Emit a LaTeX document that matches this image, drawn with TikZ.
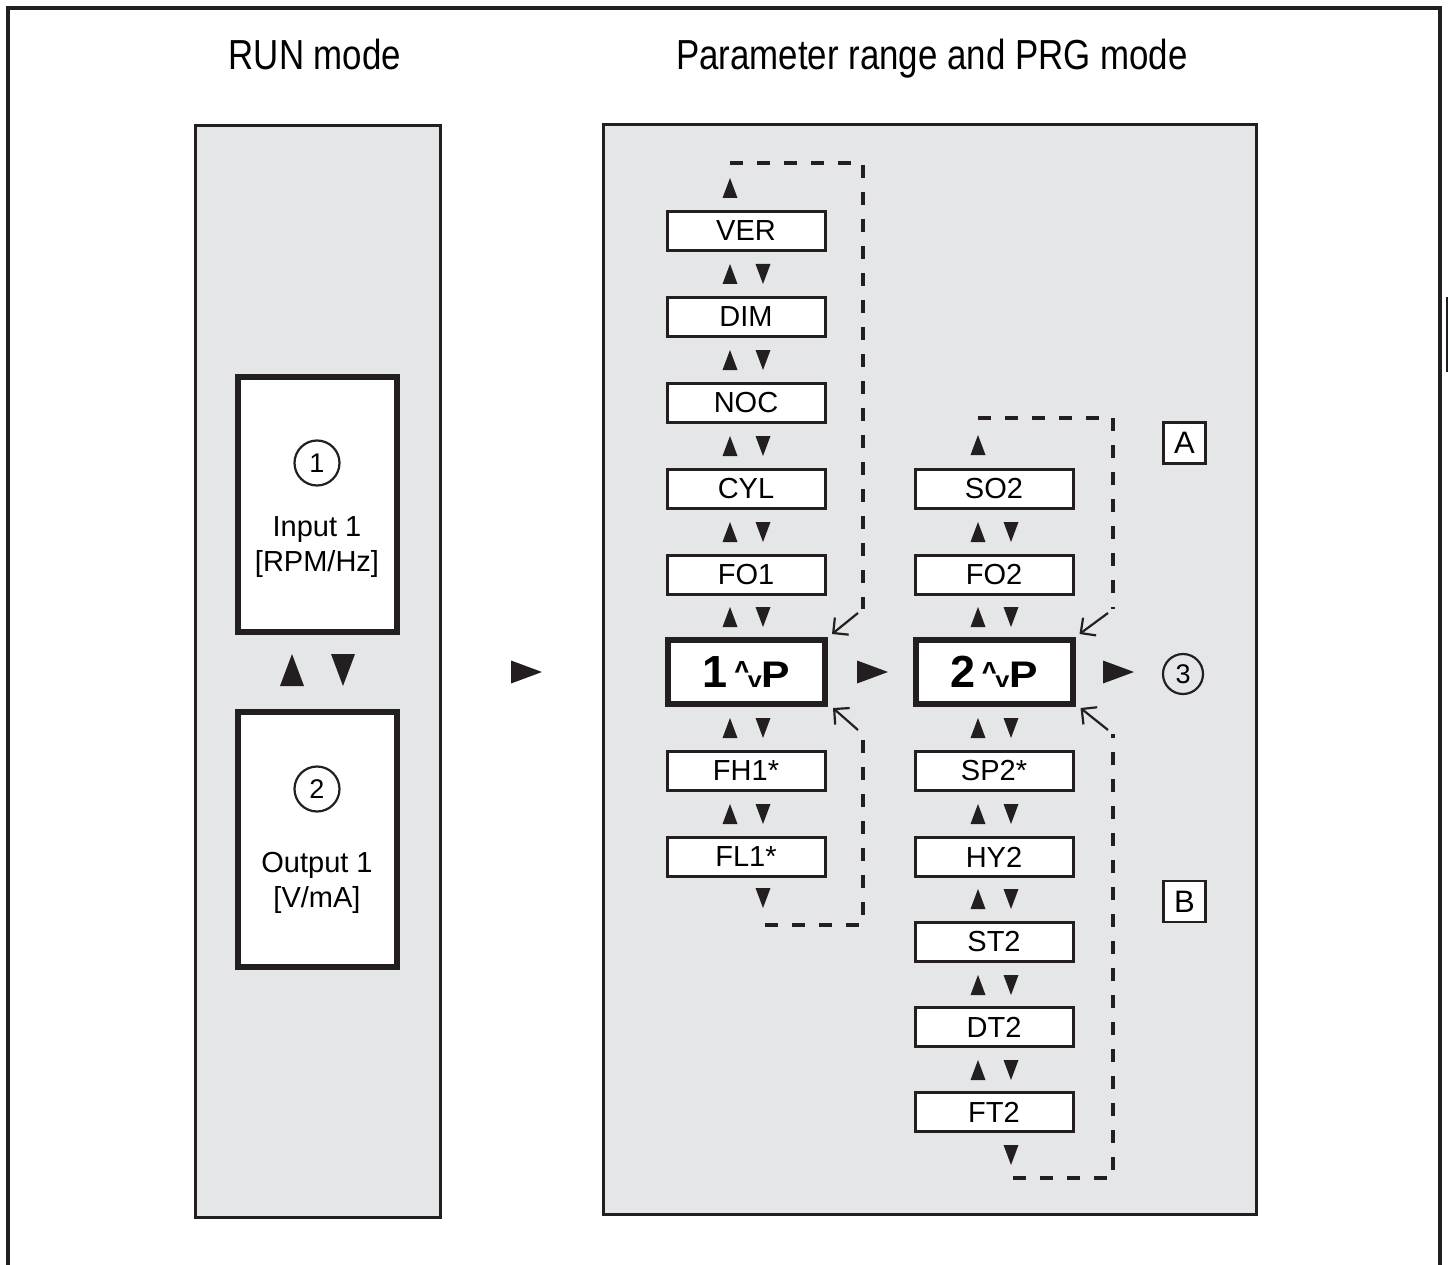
\documentclass[tikz,border=0pt]{standalone}
\usepackage{fontspec}
\setmainfont{Liberation Sans}
\newfontfamily\headfont[FakeStretch=0.83]{Liberation Sans}
\newfontfamily\prgfont[FakeStretch=1.15]{Liberation Sans}
\usetikzlibrary{arrows.meta}
\definecolor{panelgray}{RGB}{229,230,232}
\definecolor{ink}{RGB}{35,31,32}
\newcommand{\prgtext}[1]{{\bfseries\fontsize{45}{45}\selectfont #1}\hspace{7pt}{\prgfont\bfseries\fontsize{22}{22}\selectfont\raisebox{14pt}{\rotatebox[origin=c]{180}{v}}\hspace{-1pt}v}\hspace{0pt}{\prgfont\bfseries\fontsize{37}{37}\selectfont P}}
\tikzset{
  uptri/.pic={\fill[ink] (-7.5,10) -- (7.5,10) -- (0,-10) -- cycle;},
  dntri/.pic={\fill[ink] (-7.5,-10) -- (7.5,-10) -- (0,10) -- cycle;},
  rttri/.pic={\fill[ink] (-15,-11.5) -- (-15,11.5) -- (16,0) -- cycle;}
}
\begin{document}
\begin{tikzpicture}[x=1pt,y=-1pt,
  panel/.style={draw=ink,line width=3pt,fill=panelgray},
  par box/.style={draw=ink,line width=3pt,fill=white,minimum width=158pt,minimum height=39pt,inner sep=0pt,font=\fontsize{29}{29}\selectfont},
  prg box/.style={draw=ink,line width=6pt,fill=white,minimum width=157pt,minimum height=64pt,inner sep=0pt},
  run box/.style={draw=ink,line width=5.5pt,fill=white,minimum width=159pt,minimum height=255pt,inner sep=0pt},
  num/.style={circle,draw=ink,line width=2.2pt,minimum size=45pt,inner sep=0pt,font=\fontsize{27}{27}\selectfont},
  tag/.style={draw=ink,line width=2.5pt,fill=white,minimum width=42pt,minimum height=41pt,inner sep=0pt,font=\fontsize{31}{31}\selectfont},
  run text/.style={align=center,anchor=base,font=\fontsize{29}{35}\selectfont},
  title/.style={anchor=base,font=\headfont\fontsize{42}{42}\selectfont},
  loopline/.style={draw=ink,line width=3.2pt,dash pattern=on 13pt off 14pt},
  backarrow/.style={draw=ink,line width=2.2pt,-{Straight Barb[length=11pt,width=22pt]}}]
\useasboundingbox (0,0) rectangle (1448,1265);
% frame and titles
\draw[ink,line width=4.5pt] (8,1270) -- (8,8) -- (1440,8) -- (1440,1270);
\draw[ink,line width=1.2pt] (1447,297) -- (1447,372);
\node[title] (runtitle) at (315,70) {RUN mode};
\node[title] (prgtitle) at (932,70) {Parameter range and PRG mode};
\draw[panel] (195,126) rectangle (440,1217);
\draw[panel] (603,125) rectangle (1256,1214);

% RUN mode
\node[run box] (input) at (317.5,504.5) {};
\node[run box] (output) at (317.5,839.5) {};
\node[num] (n1) at (317,463) {1};
\node[run text] (intext) at (317,571) {Input 1\\{}[RPM/Hz]};
\node[num] (n2) at (317,789) {2};
\node[run text] (outtext) at (317,907) {Output 1\\{}[V/mA]};
\pic[scale=1.6] at (292,670) {uptri};
\pic[scale=1.6] at (343,670) {dntri};
\pic at (526,672) {rttri};

% parameter range, column 1
\begin{scope}[every node/.style={par box}]
\node (ver) at (746,231) {VER};
\node (dim) at (746,317) {DIM};
\node (noc) at (746,403) {NOC};
\node (cyl) at (746,489) {CYL};
\node (fo1) at (746,575) {FO1};
\node (fh1) at (746,771) {FH1*};
\node (fl1) at (746,857) {FL1*};
\end{scope}
\node[prg box] (p1) at (746.5,672) {\prgtext{1}};
\pic at (730,188) {uptri};
\foreach \yy in {274,360,446,532,617,728,814}{
  \pic at (730,\yy) {uptri};
  \pic at (763,\yy) {dntri};
}
\pic at (763,898) {dntri};

% parameter range, column 2
\begin{scope}[every node/.style={par box}]
\node (so2) at (994,489) {SO2};
\node (fo2) at (994,575) {FO2};
\node (sp2) at (994,771) {SP2*};
\node (hy2) at (994,857) {HY2};
\node (st2) at (994,942) {ST2};
\node (dt2) at (994,1027) {DT2};
\node (ft2) at (994,1112) {FT2};
\end{scope}
\node[prg box] (p2) at (994,672) {\prgtext{2}};
\pic at (978,445) {uptri};
\foreach \yy in {532,617,728,814,899,985,1070}{
  \pic at (978,\yy) {uptri};
  \pic at (1011,\yy) {dntri};
}
\pic at (1011,1155) {dntri};

\pic at (872,672) {rttri};
\pic at (1118,672) {rttri};
\node[num,minimum size=40pt] (n3) at (1183,674) {3};
\node[tag] (taga) at (1184.5,443) {A};
\node[tag] (tagb) at (1184.5,901.5) {B};

% scroll loops
\coordinate (l1a) at (730,163);
\coordinate (l1b) at (863,163);
\coordinate (l1c) at (863,609);
\coordinate (l1d) at (765,925);
\coordinate (l1e) at (863,925);
\coordinate (l1f) at (863,734);
\draw[loopline] (l1a) -- (l1b) -- (l1c);
\draw[loopline] (l1d) -- (l1e) -- (l1f);
\draw[backarrow] ([shift={(-5,4)}]l1c) -- ([shift={(4,-3)}]p1.north east);
\draw[backarrow] ([shift={(-5,-4)}]l1f) -- ([shift={(5,1)}]p1.south east);

\coordinate (l2a) at (978,418);
\coordinate (l2b) at (1113,418);
\coordinate (l2c) at (1113,609);
\coordinate (l2d) at (1013,1178);
\coordinate (l2e) at (1113,1178);
\coordinate (l2f) at (1113,734);
\draw[loopline] (l2a) -- (l2b) -- (l2c);
\draw[loopline] (l2d) -- (l2e) -- (l2f);
\draw[backarrow] ([shift={(-5,4)}]l2c) -- ([shift={(4,-3)}]p2.north east);
\draw[backarrow] ([shift={(-5,-4)}]l2f) -- ([shift={(5,1)}]p2.south east);
\end{tikzpicture}
\end{document}
